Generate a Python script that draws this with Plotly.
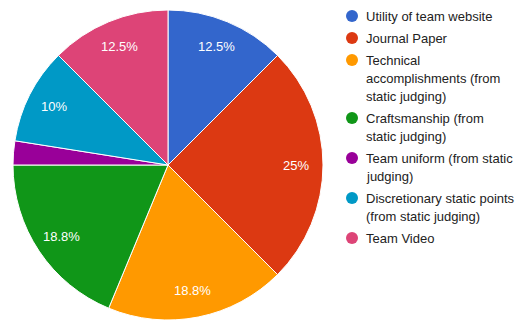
import math
import plotly.graph_objects as go

# Scoring categories (legend lines) and their point weights
categories = [
    ["Utility of team website"],
    ["Journal Paper"],
    ["Technical", "accomplishments (from", "static judging)"],
    ["Craftsmanship (from", "static judging)"],
    ["Team uniform (from static", "judging)"],
    ["Discretionary static points", "(from static judging)"],
    ["Team Video"],
]
points = [5, 10, 7.5, 7.5, 1, 4, 5]
colors = ["#3366cc", "#dc3912", "#ff9900", "#109618", "#990099", "#0099c6", "#dd4477"]

total = sum(points)


def pct_label(v):
    p = v / total * 100
    if p < 5:
        return ""
    s = f"{p:.1f}".rstrip("0").rstrip(".")
    return s + "%"


W, H = 523, 320
FONT = "Liberation Sans, Arial, sans-serif"

# Pie geometry (pixels)
cx, cy, r = 168, 165, 155
dom_x = [(cx - r) / W, (cx + r) / W]
dom_y = [(H - cy - r) / H, (H - cy + r) / H]

fig = go.Figure()
fig.add_trace(go.Pie(
    labels=[" ".join(c) for c in categories],
    values=points,
    textinfo="none",
    marker=dict(colors=colors, line=dict(color="white", width=1)),
    sort=False,
    direction="clockwise",
    rotation=0,
    showlegend=False,
    hoverinfo="label+percent",
    domain=dict(x=dom_x, y=dom_y),
))

annotations = []
shapes = []

# Percentage labels at a fixed fraction of the radius, at each slice's mid-angle
label_r = 0.825 * r
cum = 0.0
for v in points:
    mid = (cum + v / 2) / total * 2 * math.pi
    cum += v
    txt = pct_label(v)
    if not txt:
        continue
    px = cx + label_r * math.sin(mid)
    py = cy - label_r * math.cos(mid)
    annotations.append(dict(
        x=px / W, y=1 - py / H, xref="paper", yref="paper",
        text=txt, showarrow=False, xanchor="center", yanchor="middle",
        font=dict(family=FONT, size=13, color="white"),
    ))

# Legend: round markers with wrapped labels
line_h, entry_gap = 18, 4
y = 16
for lines, c in zip(categories, colors):
    shapes.append(dict(
        type="circle", xref="paper", yref="paper",
        x0=(352 - 6) / W, x1=(352 + 6) / W,
        y0=1 - (y + 6) / H, y1=1 - (y - 6) / H,
        fillcolor=c, line=dict(width=0),
    ))
    for ln in lines:
        annotations.append(dict(
            x=364 / W, y=1 - y / H, xref="paper", yref="paper",
            text=ln, showarrow=False, xanchor="left", yanchor="middle",
            font=dict(family=FONT, size=13, color="#222222"),
        ))
        y += line_h
    y += entry_gap

fig.update_layout(
    width=W, height=H,
    margin=dict(l=0, r=0, t=0, b=0),
    paper_bgcolor="white", plot_bgcolor="white",
    annotations=annotations,
    shapes=shapes,
)

fig.write_html("out.html")
